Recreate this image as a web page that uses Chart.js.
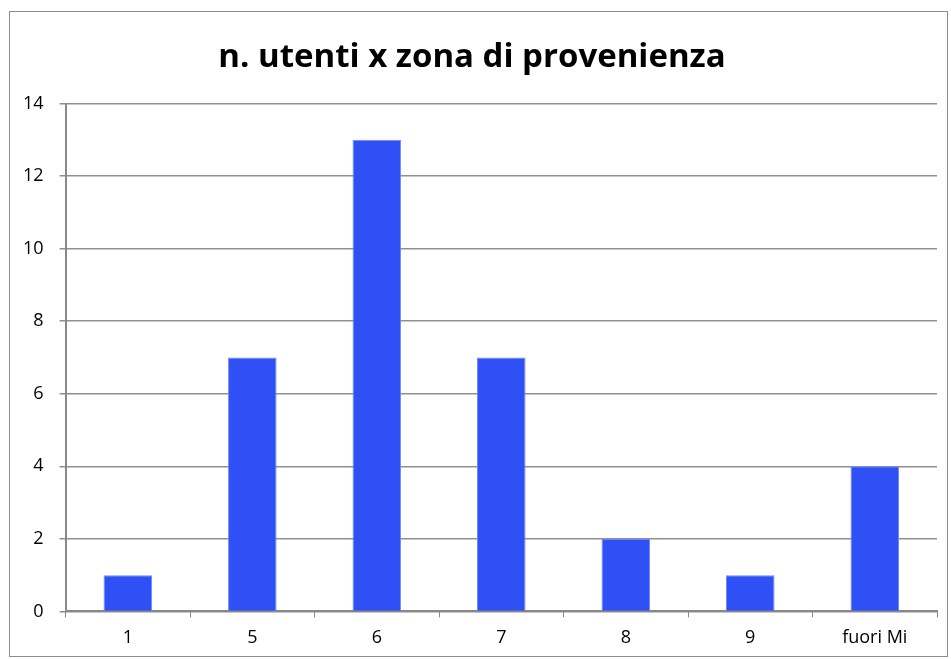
<!DOCTYPE html>
<html>
<head>
<meta charset="utf-8">
<script src="https://cdn.jsdelivr.net/npm/chart.js@4/dist/chart.umd.min.js"></script>
<style>
  body { margin: 0; background: #fff; }
</style>
</head>
<body>
<canvas id="grafico" width="951" height="659"></canvas>
<script>
// Dati
const zone = ['1', '5', '6', '7', '8', '9', 'fuori Mi'];
const utenti = [1, 7, 13, 7, 2, 1, 4];
const tickY = [0, 2, 4, 6, 8, 10, 12, 14];

// cornice esterna del grafico
const cornice = {
    id: 'cornice',
    beforeDraw(chart) {
        const c = chart.ctx;
        c.save();
        c.fillStyle = '#fff';
        c.fillRect(0, 0, chart.width, chart.height);
        c.strokeStyle = '#8c8c8c';
        c.lineWidth = 1;
        c.strokeRect(9.5, 11.5, 938, 645);
        c.restore();
    }
};

const ctx = document.getElementById('grafico').getContext('2d');
const grafico = new Chart(ctx, {
    type: 'bar',
    data: {
        labels: zone,
        datasets: [{
            label: 'n. utenti',
            data: utenti,
            backgroundColor: '#2e50f5',
            borderColor: '#7088ff',
            borderWidth: 1,
            categoryPercentage: 1,
            barPercentage: 0.39
        }]
    },
    options: {
        responsive: false,
        animation: false,
        layout: { padding: { top: 38, left: 7, right: 14, bottom: 0 } },
        plugins: {
            legend: { display: false },
            tooltip: { enabled: false },
            title: {
                display: true,
                text: 'n. utenti x zona di provenienza',
                color: '#000',
                font: { family: 'Open Sans', size: 33, weight: 'bold' },
                padding: { top: 0, bottom: 26 }
            }
        },
        scales: {
            x: {
                grid: {
                    offset: true,
                    drawOnChartArea: false,
                    drawTicks: true,
                    tickLength: 6,
                    color: '#888'
                },
                border: { color: '#888', width: 2 },
                ticks: {
                    color: '#000',
                    font: { family: 'Open Sans', size: 18 },
                    padding: 10
                }
            },
            y: {
                min: 0,
                max: 14,
                afterBuildTicks(axis) {
                    axis.ticks = tickY.map(v => ({ value: v }));
                },
                grid: {
                    color: '#909090',
                    lineWidth: 1.5,
                    drawTicks: true,
                    tickLength: 6
                },
                border: { color: '#888', width: 2 },
                ticks: {
                    color: '#000',
                    font: { family: 'Open Sans', size: 18 },
                    padding: 16
                }
            }
        }
    },
    plugins: [cornice]
});
</script>
</body>
</html>
